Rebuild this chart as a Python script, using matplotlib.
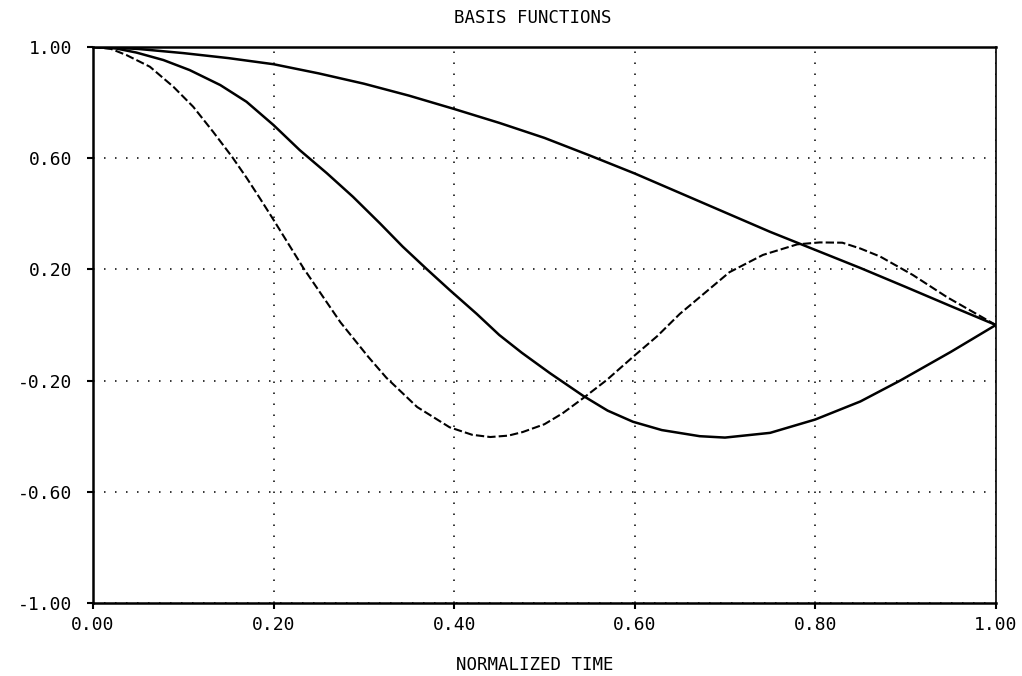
import matplotlib
matplotlib.use("Agg")
import matplotlib.pyplot as plt

# datos
x_a = [0.00, 0.05, 0.10, 0.15, 0.20, 0.25, 0.30, 0.35, 0.40, 0.45, 0.50,
       0.55, 0.60, 0.65, 0.70, 0.75, 0.80, 0.85, 0.90, 0.95, 1.00]
y_a = [1.000, 0.993, 0.978, 0.960, 0.938, 0.905, 0.868, 0.825, 0.777, 0.727, 0.673,
       0.610, 0.545, 0.475, 0.405, 0.335, 0.270, 0.205, 0.137, 0.068, 0.000]

x_b = [0.000, 0.025, 0.048, 0.078, 0.107, 0.141, 0.170, 0.200, 0.229, 0.259, 0.288,
       0.318, 0.343, 0.370, 0.395, 0.425, 0.450, 0.475, 0.506, 0.543, 0.570, 0.598,
       0.630, 0.672, 0.700, 0.750, 0.800, 0.850, 0.894, 0.950, 1.000]
y_b = [1.000, 0.995, 0.980, 0.953, 0.917, 0.863, 0.803, 0.719, 0.629, 0.546, 0.461,
       0.365, 0.282, 0.200, 0.126, 0.040, -0.036, -0.100, -0.173, -0.255, -0.308, -0.348,
       -0.378, -0.400, -0.405, -0.388, -0.340, -0.275, -0.200, -0.097, 0.000]

x_c = [0.000, 0.020, 0.037, 0.063, 0.089, 0.111, 0.133, 0.154, 0.170, 0.185, 0.200,
       0.233, 0.274, 0.305, 0.325, 0.359, 0.395, 0.420, 0.440, 0.460, 0.476, 0.500,
       0.520, 0.543, 0.569, 0.598, 0.625, 0.650, 0.672, 0.705, 0.742, 0.780, 0.805,
       0.830, 0.850, 0.872, 0.908, 0.946, 1.000]
y_c = [1.000, 0.993, 0.971, 0.929, 0.857, 0.785, 0.695, 0.605, 0.530, 0.455, 0.378,
       0.205, 0.010, -0.115, -0.190, -0.295, -0.368, -0.395, -0.403, -0.398, -0.385, -0.357,
       -0.318, -0.263, -0.198, -0.115, -0.040, 0.040, 0.100, 0.190, 0.252, 0.290, 0.297,
       0.296, 0.275, 0.246, 0.180, 0.100, 0.000]

ticks_x = [0.0, 0.2, 0.4, 0.6, 0.8, 1.0]
ticks_y = [-1.0, -0.6, -0.2, 0.2, 0.6, 1.0]

plt.rcParams['font.family'] = ['DejaVu Sans Mono']
plt.rcParams['axes.unicode_minus'] = False

fig = plt.figure(figsize=(10.22, 6.76), dpi=100)
ax = fig.add_axes([0.091, 0.108, 0.8834, 0.8225])

ax.plot(x_a, y_a, color='black', linewidth=1.8)
ax.plot(x_b, y_b, color='black', linewidth=1.8)
ax.plot(x_c, y_c, color='black', linewidth=1.5, linestyle=(0, (4, 1.5)))

ax.set_xlim(0, 1)
ax.set_ylim(-1, 1)
ax.set_xticks(ticks_x)
ax.set_yticks(ticks_y)
ax.set_xticklabels(['%.2f' % v for v in ticks_x])
ax.set_yticklabels(['%.2f' % v for v in ticks_y])
ax.tick_params(axis='both', direction='out', length=4.5, width=1.5, labelsize=13, colors='black')
ax.tick_params(axis='y', pad=10.5)
ax.tick_params(axis='x', pad=5)

# rejilla punteada
ax.grid(True, color='black', linewidth=1.1, linestyle=(0, (1, 6.2)))

for lado in ['left', 'bottom', 'top']:
    ax.spines[lado].set_linewidth(1.8)
ax.spines['right'].set_linewidth(1.2)

ax.set_title('BASIS FUNCTIONS', x=0.487, pad=17, fontsize=12.5)
ax.set_xlabel('NORMALIZED TIME', fontsize=12.5)
ax.xaxis.set_label_coords(0.489, -0.095)

fig.savefig('out.png', dpi=100)
